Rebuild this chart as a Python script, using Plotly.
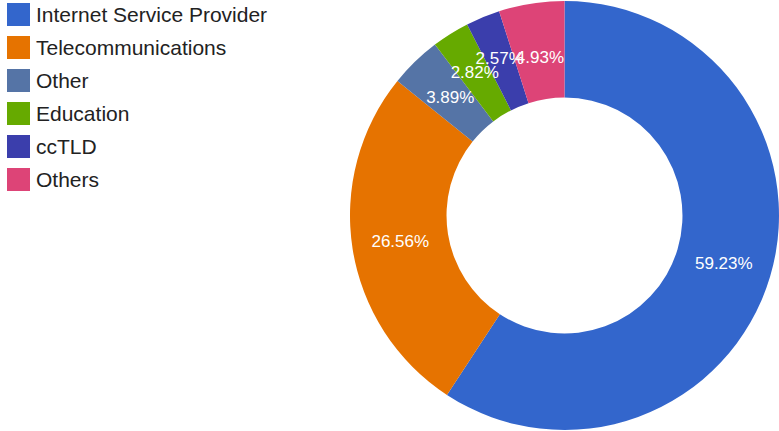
import plotly.graph_objects as go

labels = ["Internet Service Provider", "Telecommunications", "Other", "Education", "ccTLD", "Others"]
values = [59.23, 26.56, 3.89, 2.82, 2.57, 4.93]
colors = ["#3366cc", "#e67300", "#5574a6", "#66aa00", "#3b3eac", "#dd4477"]

FONT = "Liberation Sans, Arial, sans-serif"
W, H = 779, 431
CX, CY, R = 564.5, 215.5, 214.5   # pixel center / radius of the donut

big = [v >= 10 for v in values]
txt_main = ["%{value:.2f}%" if b else "" for b in big]
txt_small = ["" if b else "%{value:.2f}%" for b in big]

fig = go.Figure(go.Pie(
    labels=labels, values=values, sort=False, direction="clockwise",
    hole=0.55, marker=dict(colors=colors, line=dict(width=0)),
    texttemplate=txt_main, textposition="inside",
    insidetextorientation="horizontal",
    textfont=dict(family=FONT, size=17, color="white"),
    domain=dict(x=[350 / W, 1], y=[0, 1]),
    showlegend=False, hoverinfo="label+percent",
))

# transparent overlay ring, slightly smaller, only to carry the small-slice labels
r2 = 184
fig.add_trace(go.Pie(
    labels=labels, values=values, sort=False, direction="clockwise",
    hole=118 / r2, marker=dict(colors=["rgba(0,0,0,0)"] * len(values), line=dict(width=0)),
    texttemplate=txt_small, textposition="inside",
    insidetextorientation="horizontal",
    textfont=dict(family=FONT, size=17, color="white"),
    domain=dict(x=[(CX - r2) / W, (CX + r2) / W], y=[0.5 - r2 / H, 0.5 + r2 / H]),
    showlegend=False, hoverinfo="skip",
))

# hand-drawn legend (big square swatches like the original)
shapes, annots = [], []
for i, (lab, col) in enumerate(zip(labels, colors)):
    yc = 14.5 + 33 * i
    shapes.append(dict(type="rect", xref="paper", yref="paper",
                       x0=7 / W, x1=30 / W, y0=1 - (yc - 11.5) / H, y1=1 - (yc + 11.5) / H,
                       fillcolor=col, line=dict(width=0)))
    annots.append(dict(text=lab, xref="paper", yref="paper", x=34 / W, y=1 - yc / H,
                       xanchor="left", yanchor="middle", showarrow=False,
                       font=dict(family=FONT, size=21, color="#222")))

fig.update_layout(
    width=W, height=H, margin=dict(l=0, r=0, t=0, b=0),
    paper_bgcolor="white", plot_bgcolor="white",
    shapes=shapes, annotations=annots,
    uniformtext=dict(minsize=17, mode="show"),
)
fig.write_html("out.html", config={"displayModeBar": False},
               post_script="document.body.style.margin='0';")
